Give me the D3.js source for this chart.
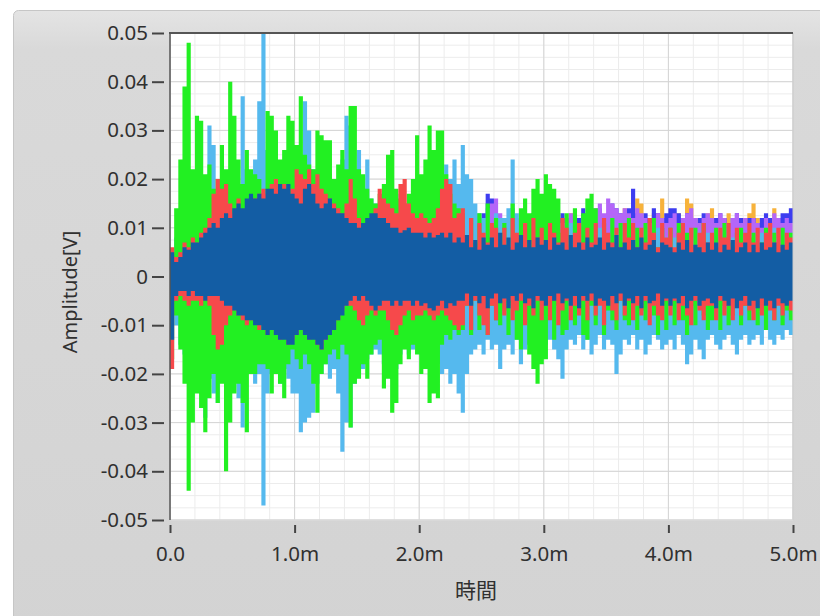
<!DOCTYPE html>
<html>
<head>
<meta charset="utf-8">
<script src="https://cdn.jsdelivr.net/npm/d3@7"></script>
<style>
  body { margin: 0; background: #fff; }
  svg text { font-family: "Noto Sans", "Open Sans", "Noto Sans CJK JP", sans-serif; fill: #303030; }
</style>
</head>
<body>
<div id="chart"></div>
<script>
// time axis (s) and ticks
const timeRange = [0, 5e-3];
const xTicks = [0, 1e-3, 2e-3, 3e-3, 4e-3, 5e-3];
const xTickLabels = ['0.0', '1.0m', '2.0m', '3.0m', '4.0m', '5.0m'];
const yTicks = [-0.05, -0.04, -0.03, -0.02, -0.01, 0, 0.01, 0.02, 0.03, 0.04, 0.05];
const yTickLabels = ['-0.05', '-0.04', '-0.03', '-0.02', '-0.01', '0', '0.01', '0.02', '0.03', '0.04', '0.05'];

// each waveform is stored as per-bin max / min (mV), 150 bins over 5 ms
const darkBlueHi = [
  5, 3, 4, 6, 5.5, 7, 7, 8, 9, 10,
  11, 10, 12, 13, 12, 14, 15, 14, 16, 17,
  16, 17, 16, 18, 18, 17, 19, 18, 19, 17,
  16, 15, 18, 19, 17, 15, 14, 15, 16, 14,
  13, 13, 12, 11, 11, 10, 11, 12, 13, 13,
  12, 12, 11, 10, 10, 9, 9.5, 10, 9, 9,
  9, 8, 9, 8, 8.5, 9, 8, 9, 7, 8,
  7, 8.5, 6, 7.5, 5.5, 8, 6.5, 8, 6, 9,
  6.5, 8, 5.5, 7, 8.5, 6, 7.5, 6, 8, 6.5,
  7.5, 5.5, 8, 6.5, 7, 5.5, 8.5, 6, 7, 5.5,
  8, 6, 6.5, 8, 5.5, 7, 6, 8.5, 6, 7,
  5.5, 7.5, 6, 8, 5.5, 6.5, 7.5, 5, 7, 6.5,
  6, 5, 7, 5.5, 7.5, 5, 6.5, 6, 5, 7,
  5.5, 7, 5, 6.5, 5.5, 7.5, 5, 6, 7, 5,
  6.5, 5, 7, 5.5, 6, 7, 5, 6.5, 5.5, 7
];
const darkBlueLo = [
  -13, -4, -3, -3, -4, -3, -4, -4, -5, -4,
  -4, -4, -5, -6, -6, -7, -8, -8, -9, -9,
  -10, -10, -11, -12, -11, -12, -13, -13, -14, -14,
  -12, -11, -12, -13, -13, -14, -15, -13, -12, -11,
  -9, -8, -6, -5, -4, -5, -4, -5, -6, -7,
  -6, -5, -5, -6, -5, -6, -5, -5, -6, -5,
  -6, -5.5, -6.5, -7, -6, -5, -6.5, -5.5, -6, -5,
  -5, -3.5, -6, -4, -5.5, -4, -6.5, -4.5, -3.5, -5.5,
  -4.5, -6.5, -4, -5, -3.5, -5.5, -4.5, -6.5, -4, -5,
  -6, -4, -5, -3.5, -5.5, -4.5, -6, -4, -6.5, -4,
  -5, -3.5, -6, -4.5, -5, -6, -4, -5.5, -3.5, -6,
  -4.5, -5.5, -4, -6.5, -4, -5.5, -5, -3.5, -6, -4.5,
  -6, -4.5, -5.5, -4, -6.5, -5, -4, -6, -5, -4.5,
  -5.5, -6.5, -4, -5, -6, -4.5, -6.5, -5, -4, -6,
  -5, -6.5, -4.5, -6, -5, -6.5, -4.5, -5.5, -6, -5
];
const redHi = [
  6, 4, 5, 7, 6, 8, 7, 9, 10, 12,
  17, 20, 18, 19, 15, 13, 16, 12, 14, 15,
  16, 17, 18, 17, 19, 20, 18, 19, 17, 18,
  22, 21, 20, 22, 19, 21, 18, 17, 16, 15,
  14, 13, 15, 20, 16, 12, 10, 9, 11, 14,
  18, 16, 15, 14, 13, 19, 20, 15, 13, 12,
  13, 12, 11, 12, 14, 18, 20, 19, 12, 13,
  14, 8, 12, 6, 11, 9, 7, 11, 10, 6,
  10, 6, 12, 9, 7, 11, 6, 12, 8, 10,
  6, 11, 9, 7, 12, 10, 6, 9, 11, 7,
  10, 7, 11, 6, 12, 9, 7, 10, 6, 11,
  8, 11, 6, 10, 7, 12, 9, 6, 11, 8,
  10, 6, 9, 11, 7, 10, 6, 9, 11, 7,
  9, 6, 10, 8, 11, 6, 10, 7, 9, 11,
  7, 10, 6, 9, 11, 7, 10, 6, 9, 8
];
const redLo = [
  -19, -5, -4, -5, -6, -5, -5, -6, -5, -6,
  -12, -15, -14, -10, -8, -7, -8, -9, -10, -9,
  -9, -11, -10, -12, -11, -12, -13, -12, -14, -13,
  -12, -11, -12, -13, -12, -14, -15, -13, -12, -11,
  -9, -7, -6, -6, -7, -9, -10, -8, -7, -8,
  -7, -7, -9, -11, -12, -10, -8, -7, -9, -8,
  -8, -7, -8, -9, -8, -7, -8, -9, -10, -11,
  -10, -6, -11, -5, -8, -10, -12, -6, -9, -5,
  -8, -5, -9, -7, -5, -10, -6, -8, -5, -9,
  -6, -9, -5, -10, -7, -5, -9, -6, -8, -5,
  -9, -5, -8, -6, -10, -5, -7, -9, -5, -8,
  -5, -9, -6, -8, -5, -10, -6, -8, -9, -5,
  -8, -5, -9, -6, -8, -10, -5, -7, -9, -6,
  -6, -9, -5, -8, -6, -9, -5, -8, -6, -7,
  -9, -6, -8, -5, -7, -9, -6, -8, -5, -7
];
const greenHi = [
  5, 14, 24, 39, 48, 22, 33, 32, 21, 23,
  18, 20, 27, 22, 40, 33, 24, 19, 26, 22,
  21, 20, 17, 34, 33, 30, 24, 26, 33, 32,
  27, 37, 25, 23, 22, 30, 29, 28, 28, 20,
  23, 26, 22, 35, 35, 22, 21, 18, 16, 15,
  17, 19, 25, 26, 18, 16, 15, 17, 20, 29,
  21, 24, 31, 26, 30, 30, 21, 17, 15, 14,
  13, 6, 12, 7, 13, 5, 15, 8, 12, 6,
  11, 6, 15, 8, 14, 16, 13, 18, 20, 17,
  21, 19, 18, 16, 9, 13, 6, 14, 7, 13,
  16, 17, 14, 6, 11, 7, 12, 5, 11, 7,
  12, 6, 10, 5, 11, 7, 12, 6, 10, 5,
  10, 5, 11, 7, 9, 5, 10, 6, 11, 5,
  6, 10, 5, 11, 7, 5, 9, 10, 5, 8,
  9, 5, 7, 10, 5, 9, 6, 10, 5, 9
];
const greenLo = [
  -17, -8, -15, -22, -44, -30, -24, -27, -32, -25,
  -20, -26, -22, -40, -30, -24, -22, -26, -32, -20,
  -20, -18, -18, -19, -24, -20, -22, -25, -18, -15,
  -17, -19, -16, -18, -22, -28, -20, -18, -16, -15,
  -17, -14, -16, -31, -22, -21, -18, -21, -16, -14,
  -13, -23, -21, -28, -26, -18, -15, -17, -14, -16,
  -20, -19, -26, -24, -25, -14, -12, -13, -11, -12,
  -11, -6, -12, -5, -11, -8, -12, -6, -9, -10,
  -7, -12, -6, -13, -15, -9, -16, -19, -22, -18,
  -17, -8, -13, -6, -12, -11, -5, -10, -7, -12,
  -13, -6, -10, -5, -12, -7, -9, -11, -5, -9,
  -10, -5, -11, -7, -9, -5, -8, -12, -6, -11,
  -6, -10, -5, -9, -12, -6, -10, -5, -8, -11,
  -9, -5, -11, -6, -10, -8, -5, -10, -6, -9,
  -5, -10, -7, -11, -6, -9, -5, -10, -7, -9
];
const lightBlueHi = [
  4, 8, 12, 14, 18, 16, 20, 14, 18, 31,
  27, 16, 14, 18, 15, 20, 17, 37, 22, 18,
  24, 36, 50, 26, 20, 22, 18, 21, 23, 19,
  18, 25, 36, 30, 22, 19, 17, 21, 18, 20,
  17, 24, 33, 31, 22, 26, 18, 24, 16, 15,
  14, 16, 18, 15, 13, 17, 14, 12, 15, 13,
  14, 12, 13, 15, 12, 18, 23, 20, 24, 19,
  27, 21, 20, 15, 13, 12, 14, 11, 13, 12,
  12, 14, 24, 13, 11, 12, 10, 11, 12, 10,
  11, 10, 12, 11, 9, 10, 11, 9, 10, 12,
  10, 9, 11, 10, 9, 8, 10, 9, 11, 10,
  9, 10, 8, 9, 10, 9, 8, 10, 9, 8,
  9, 8, 9, 10, 8, 9, 8, 9, 8, 9,
  8, 9, 8, 9, 10, 8, 9, 8, 9, 8,
  9, 8, 9, 8, 9, 10, 8, 9, 8, 9
];
const lightBlueLo = [
  -6, -10, -14, -16, -18, -20, -22, -24, -29, -21,
  -24, -26, -18, -20, -22, -19, -25, -31, -20, -18,
  -22, -20, -47, -24, -20, -18, -22, -19, -21, -24,
  -24, -32, -30, -29, -28, -22, -20, -18, -21, -19,
  -24, -36, -30, -31, -22, -20, -19, -17, -16, -15,
  -16, -18, -15, -17, -19, -16, -14, -16, -15, -14,
  -15, -17, -16, -14, -18, -20, -19, -22, -20, -24,
  -28, -20, -16, -15, -14, -16, -13, -15, -14, -19,
  -15, -14, -16, -13, -18, -15, -14, -13, -16, -12,
  -14, -13, -15, -17, -21, -15, -13, -14, -12, -15,
  -13, -16, -14, -12, -15, -13, -14, -20, -16, -13,
  -14, -12, -15, -13, -16, -14, -12, -13, -15, -14,
  -13, -15, -12, -14, -18, -16, -13, -15, -17, -13,
  -12, -14, -15, -13, -12, -14, -16, -13, -12, -14,
  -13, -12, -14, -11, -13, -14, -12, -13, -11, -12
];
const purpleHi = [
  4, 3, 5, 6, 5, 6, 7, 6, 8, 7,
  9, 10, 9, 11, 10, 12, 11, 10, 12, 11,
  12, 11, 13, 12, 14, 12, 13, 11, 12, 13,
  12, 13, 11, 12, 10, 12, 11, 12, 10, 11,
  10, 9, 11, 10, 9, 8, 9, 8, 10, 9,
  9, 10, 9, 8, 9, 10, 8, 9, 8, 9,
  8, 9, 8, 10, 9, 8, 9, 8, 9, 10,
  9, 10, 9, 11, 10, 12, 11, 15, 16, 13,
  12, 11, 13, 12, 11, 12, 10, 11, 12, 13,
  12, 11, 12, 13, 11, 12, 13, 12, 11, 12,
  13, 12, 14, 15, 13, 16, 15, 14, 13, 14,
  13, 12, 14, 13, 12, 11, 12, 13, 12, 11,
  12, 13, 11, 12, 13, 14, 12, 11, 12, 13,
  12, 11, 13, 12, 11, 12, 13, 11, 12, 11,
  12, 11, 10, 12, 11, 13, 12, 11, 12, 11
];
const purpleLo = [
  -5, -4, -6, -5, -7, -6, -5, -7, -6, -8,
  -7, -6, -8, -7, -9, -8, -7, -8, -9, -8,
  -9, -8, -10, -9, -8, -10, -9, -8, -9, -10,
  -9, -10, -8, -9, -10, -9, -8, -9, -8, -7,
  -7, -6, -7, -6, -5, -6, -7, -6, -5, -6,
  -6, -5, -7, -6, -5, -6, -5, -6, -7, -6,
  -6, -7, -6, -5, -6, -7, -6, -5, -6, -7,
  -7, -6, -7, -8, -6, -7, -8, -7, -6, -7,
  -6, -7, -8, -7, -6, -7, -8, -7, -6, -7,
  -7, -8, -7, -6, -7, -8, -7, -6, -7, -8,
  -8, -7, -6, -7, -8, -7, -6, -7, -8, -7,
  -7, -8, -7, -6, -7, -8, -7, -8, -7, -6,
  -7, -6, -7, -8, -7, -6, -7, -8, -7, -6,
  -6, -7, -8, -7, -6, -7, -8, -7, -6, -7,
  -7, -8, -7, -6, -7, -8, -7, -6, -7, -8
];
const violetHi = [
  3, 4, 5, 4, 6, 5, 7, 6, 7, 8,
  8, 9, 10, 9, 11, 10, 12, 11, 10, 11,
  12, 13, 12, 11, 13, 12, 14, 13, 12, 11,
  12, 11, 13, 12, 11, 10, 12, 11, 10, 11,
  10, 11, 9, 10, 8, 9, 8, 9, 10, 9,
  10, 9, 8, 9, 10, 9, 8, 9, 8, 9,
  9, 8, 9, 10, 9, 8, 10, 9, 8, 9,
  9, 10, 11, 12, 11, 13, 17, 16, 12, 11,
  10, 12, 14, 11, 12, 10, 11, 13, 12, 11,
  12, 13, 11, 12, 13, 12, 11, 13, 12, 14,
  13, 12, 13, 14, 12, 13, 15, 14, 13, 12,
  14, 18, 13, 12, 13, 12, 14, 13, 12, 13,
  14, 14, 13, 12, 13, 12, 11, 12, 13, 12,
  11, 12, 13, 12, 11, 12, 13, 12, 11, 12,
  12, 11, 12, 13, 12, 11, 12, 13, 13, 14
];
const violetLo = [
  -4, -5, -4, -6, -5, -7, -6, -5, -7, -6,
  -6, -7, -8, -7, -8, -9, -8, -7, -9, -8,
  -8, -9, -8, -10, -9, -8, -9, -10, -9, -8,
  -10, -9, -8, -9, -10, -8, -9, -10, -9, -8,
  -6, -7, -5, -6, -5, -6, -5, -6, -7, -6,
  -5, -6, -7, -6, -5, -6, -7, -6, -5, -6,
  -7, -6, -5, -6, -7, -6, -5, -6, -7, -6,
  -6, -7, -6, -7, -8, -7, -6, -7, -8, -7,
  -7, -6, -7, -8, -7, -6, -7, -8, -7, -6,
  -8, -7, -6, -7, -8, -7, -6, -7, -8, -7,
  -7, -8, -7, -6, -7, -8, -7, -6, -7, -8,
  -6, -7, -8, -7, -6, -7, -8, -7, -6, -7,
  -8, -7, -6, -7, -8, -7, -6, -7, -8, -7,
  -7, -6, -7, -8, -7, -6, -7, -8, -7, -6,
  -6, -7, -8, -7, -6, -7, -8, -7, -6, -7
];
const orangeHi = [
  3, 4, 3, 5, 4, 6, 5, 6, 7, 6,
  8, 7, 9, 8, 10, 9, 8, 10, 9, 10,
  11, 10, 12, 11, 10, 12, 11, 10, 11, 12,
  11, 12, 10, 11, 12, 10, 11, 10, 9, 10,
  9, 8, 10, 9, 8, 7, 8, 7, 9, 8,
  8, 9, 8, 7, 8, 9, 7, 8, 7, 8,
  7, 8, 7, 9, 8, 7, 8, 7, 8, 9,
  8, 9, 10, 9, 8, 10, 9, 11, 10, 9,
  10, 9, 11, 10, 12, 11, 10, 9, 11, 10,
  11, 10, 12, 11, 10, 12, 13, 11, 10, 12,
  11, 12, 11, 13, 12, 11, 12, 13, 12, 14,
  12, 13, 16, 15, 12, 11, 13, 12, 16, 12,
  11, 12, 13, 12, 16, 15, 12, 11, 12, 13,
  14, 12, 11, 12, 13, 11, 12, 11, 12, 13,
  15, 12, 11, 12, 11, 14, 12, 11, 12, 11
];
const orangeLo = [
  -4, -4, -5, -4, -6, -5, -6, -5, -7, -6,
  -7, -6, -8, -7, -8, -7, -9, -8, -7, -8,
  -9, -8, -9, -10, -9, -8, -9, -10, -8, -9,
  -9, -8, -10, -9, -8, -9, -10, -9, -8, -7,
  -6, -5, -6, -7, -5, -6, -5, -6, -5, -7,
  -6, -5, -6, -5, -7, -6, -5, -6, -7, -5,
  -6, -5, -7, -6, -5, -6, -7, -5, -6, -5,
  -7, -6, -7, -6, -8, -7, -6, -7, -6, -8,
  -7, -6, -8, -7, -6, -7, -6, -8, -7, -6,
  -6, -7, -8, -6, -7, -6, -8, -7, -6, -7,
  -8, -6, -7, -6, -8, -7, -6, -7, -8, -6,
  -7, -6, -8, -7, -6, -7, -6, -8, -7, -6,
  -6, -7, -6, -8, -7, -6, -7, -8, -6, -7,
  -7, -8, -6, -7, -6, -8, -7, -6, -7, -6,
  -6, -7, -8, -6, -7, -6, -8, -7, -6, -7
];

// drawing order: first is at the back
const series = [
  { color: '#f7b23b', hi: orangeHi, lo: orangeLo },
  { color: '#3d3df0', hi: violetHi, lo: violetLo },
  { color: '#b466f8', hi: purpleHi, lo: purpleLo },
  { color: '#55b9ee', hi: lightBlueHi, lo: lightBlueLo },
  { color: '#22f022', hi: greenHi, lo: greenLo },
  { color: '#f6494b', hi: redHi, lo: redLo },
  { color: '#135da4', hi: darkBlueHi, lo: darkBlueLo }
];

const W = 820, H = 616;
const margin = { top: 33, left: 170, right: 27, bottom: 96 };
const width = W - margin.left - margin.right;
const height = H - margin.top - margin.bottom;

const svg = d3.select('#chart').append('svg')
  .attr('width', W).attr('height', H);

// panel background
const grad = svg.append('defs').append('linearGradient')
  .attr('id', 'panel').attr('x1', 0).attr('y1', 0).attr('x2', 0).attr('y2', 1);
grad.append('stop').attr('offset', '0%').attr('stop-color', '#e4e4e4');
grad.append('stop').attr('offset', '6%').attr('stop-color', '#d9d9d9');
grad.append('stop').attr('offset', '100%').attr('stop-color', '#d3d3d3');
svg.append('rect')
  .attr('x', 13.5).attr('y', 10.5).attr('width', 840).attr('height', 640).attr('rx', 5)
  .attr('fill', 'url(#panel)').attr('stroke', '#c6c6c6');

svg.select('defs').append('clipPath').attr('id', 'plotclip')
  .append('rect').attr('width', width).attr('height', height);

const g = svg.append('g').attr('transform', `translate(${margin.left},${margin.top})`);

const x = d3.scaleLinear().domain(timeRange).range([0, width]);
const y = d3.scaleLinear().domain([-0.05, 0.05]).range([height, 0]);

g.append('rect').attr('width', width).attr('height', height).attr('fill', '#fff');

// grid: minor then major
const minorX = d3.range(0, 26).map(i => i * 0.2e-3);
const minorY = d3.range(0, 41).map(i => -0.05 + i * 0.0025);
g.append('g').selectAll('line').data(minorX).join('line')
  .attr('x1', d => x(d)).attr('x2', d => x(d)).attr('y1', 0).attr('y2', height)
  .attr('stroke', '#ececec');
g.append('g').selectAll('line').data(minorY).join('line')
  .attr('y1', d => y(d)).attr('y2', d => y(d)).attr('x1', 0).attr('x2', width)
  .attr('stroke', '#ececec');
g.append('g').selectAll('line').data(xTicks).join('line')
  .attr('x1', d => x(d)).attr('x2', d => x(d)).attr('y1', 0).attr('y2', height)
  .attr('stroke', '#d4d4d4');
g.append('g').selectAll('line').data(yTicks).join('line')
  .attr('y1', d => y(d)).attr('y2', d => y(d)).attr('x1', 0).attr('x2', width)
  .attr('stroke', '#d4d4d4');

// waveforms as min/max envelopes per bin
const nBins = darkBlueHi.length;
const dt = (timeRange[1] - timeRange[0]) / nBins;
const area = d3.area()
  .x(d => x(d.t))
  .y0(d => y(d.lo / 1000))
  .y1(d => y(d.hi / 1000))
  .curve(d3.curveStepAfter);

const plots = g.append('g').attr('clip-path', 'url(#plotclip)');
series.forEach(s => {
  const pts = s.hi.map((v, i) => ({ t: i * dt, hi: v, lo: s.lo[i] }));
  pts.push({ t: timeRange[1], hi: s.hi[nBins - 1], lo: s.lo[nBins - 1] });
  plots.append('path').datum(pts)
    .attr('d', area)
    .attr('fill', s.color);
});

// frame
g.append('line').attr('x1', width).attr('x2', width).attr('y1', 0).attr('y2', height)
  .attr('stroke', '#c8c8c8');
g.append('line').attr('x1', 0).attr('x2', width).attr('y1', height).attr('y2', height)
  .attr('stroke', '#d8d8d8');
g.append('line').attr('x1', -1).attr('x2', width).attr('y1', 0).attr('y2', 0)
  .attr('stroke', '#555').attr('stroke-width', 2);
g.append('line').attr('x1', 0).attr('x2', 0).attr('y1', 0).attr('y2', height)
  .attr('stroke', '#555').attr('stroke-width', 1.5);

// axes
const yAxis = g.append('g').attr('transform', 'translate(-6,0)')
  .call(d3.axisLeft(y).tickValues(yTicks)
    .tickFormat((d, i) => yTickLabels[i]).tickSize(12).tickPadding(4));
yAxis.select('.domain').remove();
yAxis.selectAll('.tick line').attr('stroke', '#444').attr('stroke-width', 2);
yAxis.selectAll('.tick text').style('font-size', '20.5px').attr('fill', '#303030');

const xAxis = g.append('g').attr('transform', `translate(0,${height + 5})`)
  .call(d3.axisBottom(x).tickValues(xTicks)
    .tickFormat((d, i) => xTickLabels[i]).tickSize(8).tickPadding(13));
xAxis.select('.domain').remove();
xAxis.selectAll('.tick line').attr('stroke', '#444').attr('stroke-width', 2);
xAxis.selectAll('.tick text').style('font-size', '20.5px').attr('fill', '#303030');

// titles
svg.append('text')
  .attr('transform', 'translate(70,292) rotate(-90)')
  .attr('text-anchor', 'middle').attr('dy', '0.35em')
  .style('font-size', '20px')
  .text('Amplitude[V]');
svg.append('text')
  .attr('x', 476).attr('y', 591)
  .attr('text-anchor', 'middle').attr('dy', '0.35em')
  .style('font-size', '21px')
  .text('時間');
</script>
</body>
</html>
